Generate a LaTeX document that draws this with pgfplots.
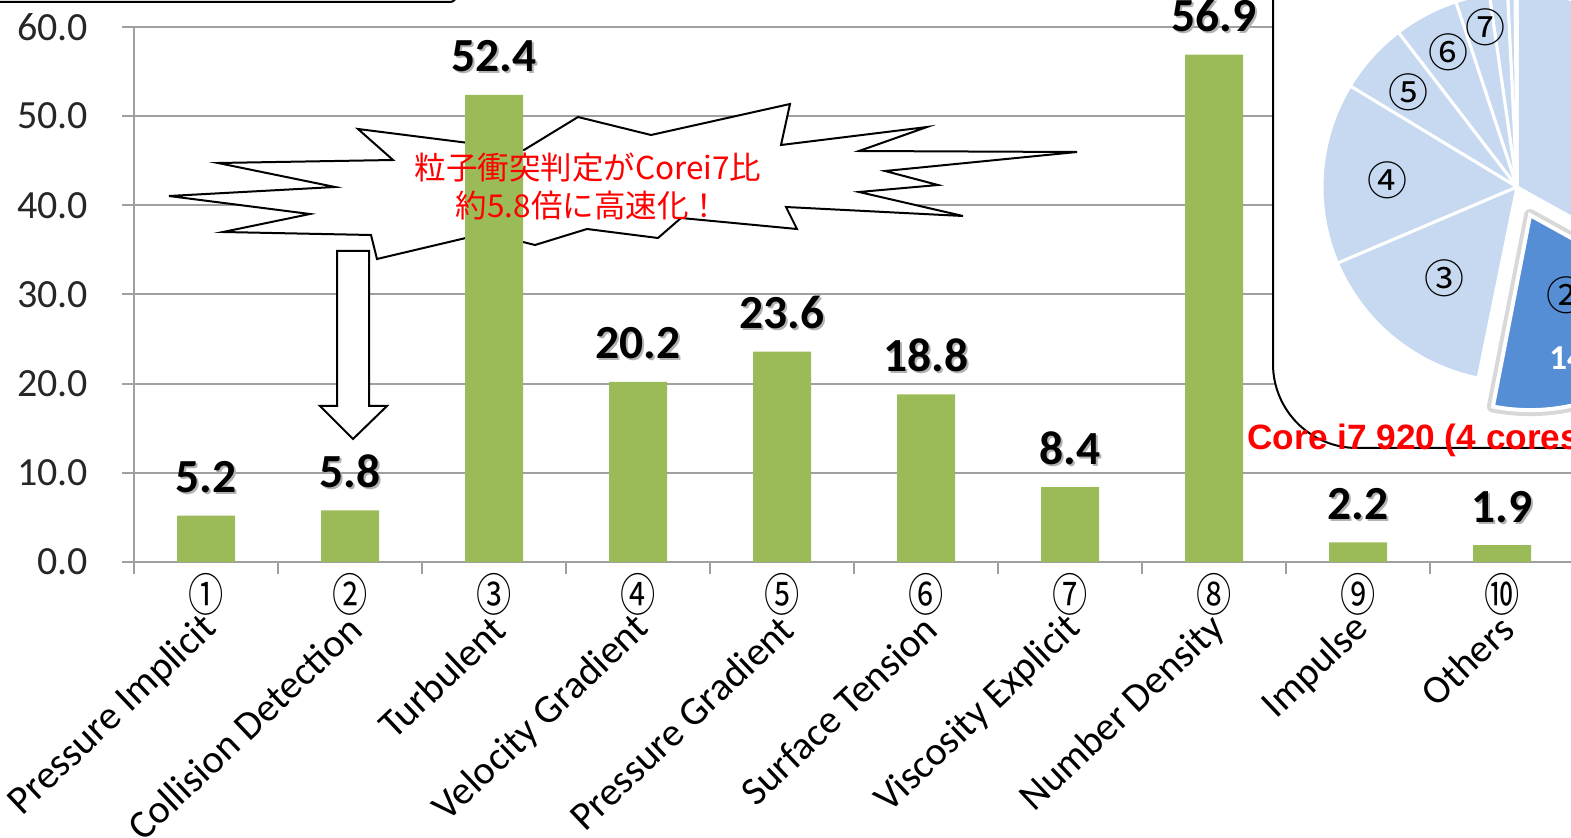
\documentclass[border=0pt]{standalone}
\usepackage{pgfplots}
\usepackage{pgfplotstable}
\pgfplotsset{compat=1.18}
\usepackage{fontspec}
\setmainfont{Carlito}
\newfontfamily\cjk{Noto Sans CJK JP}
\newfontfamily\arial{Liberation Sans}
\definecolor{barg}{HTML}{9BBB59}
\definecolor{gridg}{HTML}{A0A0A0}
\definecolor{pielt}{HTML}{C6D9F1}
\definecolor{piedk}{HTML}{558ED5}
\newcommand\fs[1]{\fontsize{#1}{#1}\selectfont}
\newcommand\shadowed[1]{\makebox[0pt][l]{\kern1pt\raisebox{-1pt}{\color{black!30}#1}}#1}
\newcommand\cn[1]{\scalebox{0.82}[1.05]{#1}}

\pgfplotstableread{
x y
0 5.2
1 5.8
2 52.4
3 20.2
4 23.6
5 18.8
6 8.4
7 56.9
8 2.2
9 1.9
}\datatable

\begin{document}
\begin{tikzpicture}
\begin{axis}[
  at={(67pt,-281pt)}, anchor=south west,
  scale only axis, width=718.5pt, height=267.5pt,
  xmin=-0.5, xmax=9.479, ymin=0, ymax=60,
  clip=false,
  ybar, bar width=29pt,
  axis x line*=bottom, axis y line*=left,
  axis line style={-, draw=gridg, line width=1pt},
  ytick={0,10,...,60}, ymajorgrids,
  grid style={draw=gridg, line width=1pt},
  tick align=outside, major tick length=6pt, minor tick length=6pt,
  tick style={draw=gridg, line width=1pt},
  major x tick style={draw=none},
  xtick={0,...,9},
  xticklabels={\cn{①},\cn{②},\cn{③},\cn{④},\cn{⑤},\cn{⑥},\cn{⑦},\cn{⑧},\cn{⑨},\cn{⑩}},
  minor xtick={-0.5,0.5,...,8.5},
  /pgf/number format/assume math mode=true,
  yticklabel style={font=\fs{20}, text=black!85, anchor=east, xshift=-13.5pt,
    /pgf/number format/fixed, /pgf/number format/fixed zerofill, /pgf/number format/precision=1},
  xticklabel style={font=\cjk\fs{21.5}, anchor=center, yshift=-10pt},
  extra x ticks={0,...,9},
  extra x tick labels={Pressure Implicit,Collision Detection,Turbulent,Velocity Gradient,Pressure Gradient,Surface Tension,Viscosity Explicit,Number Density,Impulse,Others},
  extra x tick style={xticklabel style={xshift=5pt, yshift=-12pt, rotate=43.5, anchor=east, font=\fs{20}, text=black}},
]
\begin{scope}[shift={(axis cs:-0.5,60)}]
\draw[fill=white, line width=1pt, line join=miter]
 (112pt,-51pt) -- (195pt,-61.5pt) -- (222pt,-45pt) -- (258.5pt,-54pt) -- (328pt,-38.5pt)
 -- (323.5pt,-59pt) -- (396.5pt,-50pt) -- (362.5pt,-62pt) -- (471.5pt,-62.5pt) -- (375.5pt,-72pt)
 -- (402pt,-79pt) -- (362.5pt,-82.5pt) -- (414.5pt,-94.5pt) -- (326pt,-90pt) -- (331.5pt,-101pt)
 -- (273.5pt,-95.5pt) -- (262pt,-105.5pt) -- (226.5pt,-101pt) -- (200.5pt,-109pt) -- (176.5pt,-103pt)
 -- (121.5pt,-116pt) -- (118.5pt,-104pt) -- (44.5pt,-102.5pt) -- (88pt,-93.5pt) -- (17.5pt,-84.5pt)
 -- (100.5pt,-80pt) -- (42pt,-68pt) -- (129.5pt,-66.5pt) -- cycle;
\draw[fill=white, line width=1pt, line join=miter]
 (101.5pt,-112pt) -- (117.5pt,-112pt) -- (117.5pt,-189.5pt) -- (126.5pt,-189.5pt)
 -- (109.5pt,-206pt) -- (93pt,-189.5pt) -- (101.5pt,-189.5pt) -- cycle;
\end{scope}
\addplot[fill=barg, draw=none,
  nodes near coords={\shadowed{\pgfmathprintnumber{\pgfplotspointmeta}}},
  every node near coord/.append style={font=\bfseries\fs{23.75}, text=black, anchor=base, inner sep=0pt, yshift=11.5pt,
    /pgf/number format/fixed, /pgf/number format/fixed zerofill, /pgf/number format/precision=1}]
  table[x=x, y=y] {\datatable};
\end{axis}

\begin{scope}[x=0.5pt,y=-0.5pt]
% remnant of an upper box
\draw[line width=1pt, rounded corners=3pt] (-10,2) -- (456,2) -- (456,-20);

% callout text
\node[align=center, text=red, font=\cjk\fontsize{15.75}{19}\selectfont, inner sep=0pt] at (588,186)
  {粒子衝突判定がCorei7比\\約5.8倍に高速化！};

% inset box with pie
\filldraw[fill=white, draw=black, line width=1pt, rounded corners=42pt]
  (1273,-400) -- (1273,448) -- (1800,448) -- (1800,-400) -- cycle;
\begin{scope}[shift={(1517,187)}, yscale=-1]
  \foreach \a/\b in {-29/90, 90/90.6, 90.6/92.8, 92.8/98.2, 98.2/108.3, 108.3/127.5, 127.5/148.8, 148.8/203, 203/258.5}
    \filldraw[fill=pielt, draw=white, line width=1.5pt] (0,0) -- (\a:195) arc[start angle=\a, end angle=\b, radius=195] -- cycle;
  \begin{scope}[shift={(295:31)}]
    \draw[black!25, line width=6pt, opacity=0.6, line join=round] (0,0) -- (259:195) arc[start angle=259, end angle=331, radius=195] -- cycle;
    \filldraw[fill=piedk, draw=white, line width=2pt] (0,0) -- (259:195) arc[start angle=259, end angle=331, radius=195] -- cycle;
  \end{scope}
\end{scope}
\node[font=\cjk\fs{20}] at (1485,27) {⑦};
\node[font=\cjk\fs{20}] at (1448,52) {⑥};
\node[font=\cjk\fs{20}] at (1408,92) {⑤};
\node[font=\cjk\fs{20}] at (1387,180) {④};
\node[font=\cjk\fs{20}] at (1444,278) {③};
\node[font=\cjk\fs{20}] at (1566,295) {②};
\node[anchor=base west, inner sep=0pt, font=\bfseries\fs{17.5}, text=white] at (1549,370) {14\%};

\node[anchor=base west, inner sep=0pt, text=red, font=\arial\bfseries\fs{17.6}] at (1247,450) {Core i7 920 (4 cores)};

\pgfresetboundingbox
\path[use as bounding box] (0,0) rectangle (1571,838);
\end{scope}
\end{tikzpicture}
\end{document}
